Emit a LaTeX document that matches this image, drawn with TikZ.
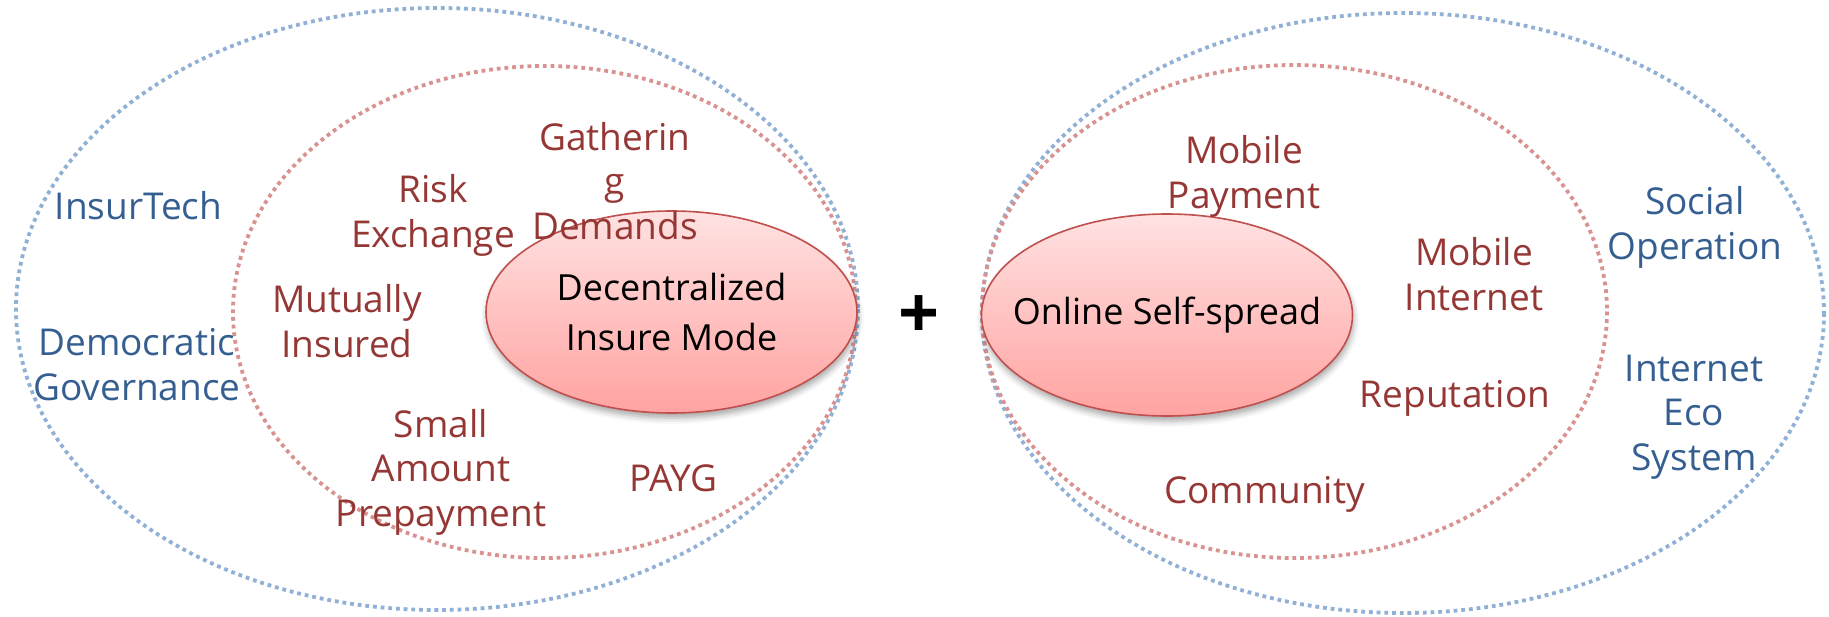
\documentclass[tikz,border=0pt]{standalone}
\usepackage{fontspec}
\setmainfont{Open Sans}
\usetikzlibrary{shapes.geometric,shadows.blur}

\definecolor{labelred}{RGB}{149,55,53}
\definecolor{labelblue}{RGB}{54,95,145}
\definecolor{ringblue}{RGB}{145,176,214}
\definecolor{ringred}{RGB}{216,146,144}
\definecolor{ovaledge}{RGB}{192,80,77}
\definecolor{ovaltop}{RGB}{255,226,226}
\definecolor{ovalbottom}{RGB}{255,163,161}

\begin{document}
\begin{tikzpicture}[x=1pt,y=-1pt,
  ring/.style={line width=3.8pt, dash pattern=on 3.8pt off 3.9pt},
  oval/.style={ellipse, draw=ovaledge, line width=1.6pt,
    top color=ovaltop, bottom color=ovalbottom,
    minimum width=371pt, minimum height=202pt, inner sep=0pt,
    align=center, font=\fontsize{36}{50}\selectfont,
    blur shadow={shadow xshift=1pt, shadow yshift=-5pt,
      shadow opacity=35, shadow blur radius=6pt}},
  lbl/.style={align=center, inner sep=0pt, anchor=base,
    font=\fontsize{37}{44.5}\selectfont},
  inner/.style={lbl, text=labelred},
  outer/.style={lbl, text=labelblue}]

\useasboundingbox (0,0) rectangle (1829,616);

% dotted rings
\draw[ring, ringblue] (437,309) ellipse [x radius=421, y radius=301];
\draw[ring, ringblue] (1403,313) ellipse [x radius=421, y radius=300];
\draw[ring, ringred] (544.5,312) ellipse [x radius=311.5, y radius=246];
\draw[ring, ringred] (1294.5,311.5) ellipse [x radius=312.5, y radius=246.5];

% core ovals
\node[oval] (dec) at (671.5,312) {Decentralized\\Insure Mode};
\node[oval, inner xsep=-50pt] (onl) at (1167,315) {Online Self-spread};

\node[inner sep=0pt, font=\fontsize{72}{72}\selectfont\bfseries] (plus) at (919,317) {+};

% left group (positions are last-line baselines)
\node[outer] (ins) at (138.5,219) {InsurTech};
\node[outer] (dem) at (137,400) {Democratic\\Governance};
\node[inner] (risk) at (433,247) {Risk\\Exchange};
\node[inner] (gath) at (615,239) {Gatherin\\g\\Demands};
\node[inner] (mut) at (347,357) {Mutually\\Insured};
\node[inner] (small) at (441,526) {Small\\Amount\\Prepayment};
\node[inner] (payg) at (673.5,491) {PAYG};

% right group
\node[inner] (mpay) at (1244,208) {Mobile\\Payment};
\node[inner] (mnet) at (1474,310) {Mobile\\Internet};
\node[inner] (rep) at (1455,407) {Reputation};
\node[inner] (com) at (1264.5,503) {Community};
\node[outer] (soc) at (1695,259) {Social\\Operation};
\node[outer] (eco) at (1694,470) {Internet\\Eco\\System};
\end{tikzpicture}
\end{document}
